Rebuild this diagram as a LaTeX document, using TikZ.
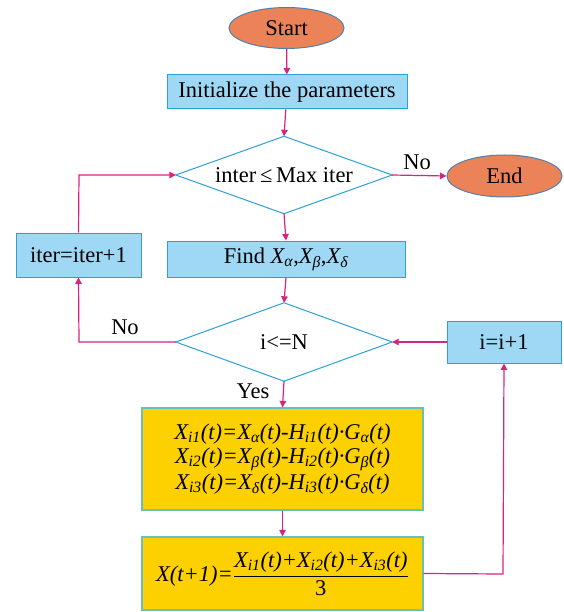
\documentclass[tikz,border=0pt]{standalone}
\usepackage{fontspec}
\setmainfont{Liberation Serif}
\usetikzlibrary{shapes.geometric,arrows.meta}
\definecolor{flow}{HTML}{D8237F}
\definecolor{boxfill}{HTML}{9ED8F5}
\definecolor{boxline}{HTML}{2EA0D8}
\definecolor{ovalfill}{HTML}{EC8358}
\definecolor{ovalline}{HTML}{4F81AE}
\definecolor{goldfill}{HTML}{FDD000}
\definecolor{goldline}{HTML}{6ABFB8}
\newcommand\sbs[1]{\textsubscript{#1}}
\begin{document}
\begin{tikzpicture}[x=1pt,y=-1pt,
  every node/.style={font=\fontsize{22.5}{27}\selectfont},
  oval/.style={ellipse,draw=ovalline,fill=ovalfill,line width=1pt,inner sep=0pt},
  bluebox/.style={rectangle,draw=boxline,fill=boxfill,line width=1pt,inner sep=0pt},
  goldbox/.style={rectangle,draw=goldline,fill=goldfill,line width=1.2pt,inner sep=0pt},
  decide/.style={rectangle,inner sep=0pt},
  diamondline/.style={draw=boxline,fill=white,line width=1pt},
  flowline/.style={draw=flow,line width=1.2pt,-{Triangle[length=6.5pt,width=6.5pt]}},
  lbl/.style={inner sep=0pt}]
\useasboundingbox (0,0) rectangle (563,612);
\node[oval,minimum width=115pt,minimum height=41pt] (start) at (286.5,28) {Start};
\node[bluebox,minimum width=240pt,minimum height=34pt] (init) at (287,92) {Initialize the parameters};
\node[decide,minimum width=216pt,minimum height=77pt] (d1) at (284,175) {};
\path[diamondline] (d1.north) -- (d1.east) -- (d1.south) -- (d1.west) -- cycle;
\node[lbl] (d1t) at (d1.center) {inter\,≤\,Max iter};
\node[oval,minimum width=115pt,minimum height=42pt] (end) at (504.5,176) {End};
\node[bluebox,minimum width=125pt,minimum height=44pt] (iter) at (78.5,255) {iter=iter+1};
\node[bluebox,minimum width=238pt,minimum height=36pt] (find) at (286,259) {Find \textit{X\sbs{α}},\textit{X\sbs{β}},\textit{X\sbs{δ}}};
\node[decide,minimum width=216pt,minimum height=78pt] (d2) at (284,342) {};
\path[diamondline] (d2.north) -- (d2.east) -- (d2.south) -- (d2.west) -- cycle;
\node[lbl] (d2t) at (d2.center) {i<=N};
\node[bluebox,minimum width=114pt,minimum height=42pt] (inc) at (504,342) {i=i+1};
\node[goldbox,minimum width=281pt,minimum height=102pt,align=center] (f1) at (282.5,459)
  {\itshape X\sbs{i1}(t)=X\sbs{α}(t)-H\sbs{i1}(t)·G\sbs{α}(t)\\[-3pt]
   \itshape X\sbs{i2}(t)=X\sbs{β}(t)-H\sbs{i2}(t)·G\sbs{β}(t)\\[-1pt]
   \itshape X\sbs{i3}(t)=X\sbs{δ}(t)-H\sbs{i3}(t)·G\sbs{δ}(t)};
\node[goldbox,minimum width=281pt,minimum height=73pt] (f2) at (282.5,573.5)
  {\itshape X(t+1)=$\displaystyle\frac{\mbox{\itshape X\sbs{i1}(t)+X\sbs{i2}(t)+X\sbs{i3}(t)}}{\mbox{\upshape 3}}$};
\coordinate (cl) at (79,342);
\coordinate (cu) at (79,175);
\coordinate (cr) at (503,574);
\path[flowline] (start) -- (init);
\path[flowline] (init) -- (d1.north);
\path[flowline] (d1.east) -- (end.west);
\path[flowline] (d1.south) -- (find.north);
\path[flowline] (find.south) -- (d2.north);
\path[flowline] (d2.west) -- (cl) -- (iter.south);
\path[flowline] (iter.north) -- (cu) -- (d1.west);
\path[flowline] (d2.south) -- (f1.north);
\path[flowline] (f1.south) -- (f2.north);
\path[flowline] (f2.east) -- (cr) -- (inc.south);
\path[flowline] (inc.west) -- (d2.east);
\node[lbl] (no1) at (417,162) {No};
\node[lbl] (no2) at (125,327) {No};
\node[lbl] (yes) at (253,391) {Yes};
\end{tikzpicture}
\end{document}
